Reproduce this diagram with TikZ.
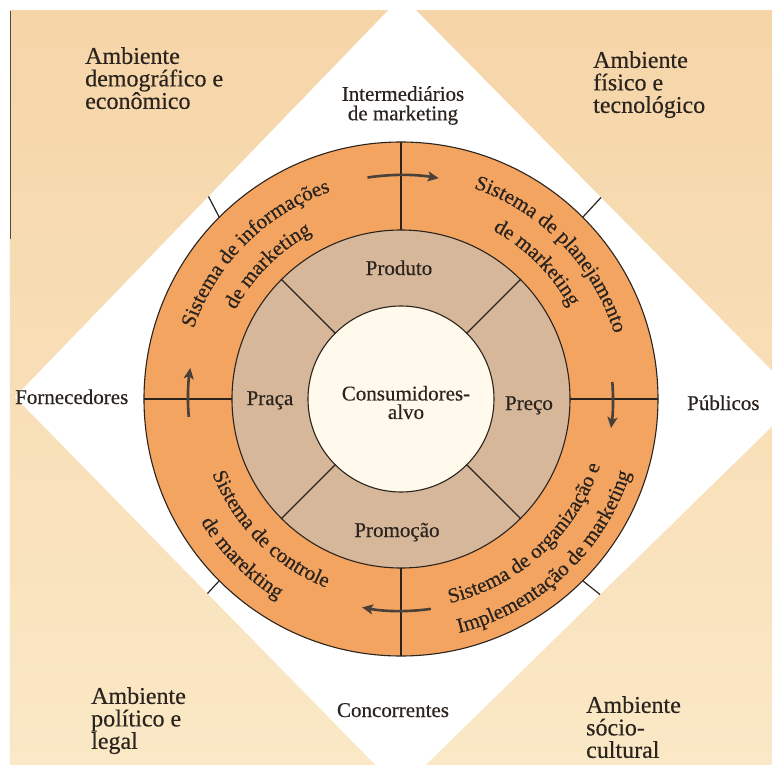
\documentclass[tikz,border=0pt]{standalone}
\usepackage{fontspec}
\setmainfont[FakeBold=0.4]{Liberation Serif}
\usetikzlibrary{decorations.text,arrows.meta,calc}
\definecolor{bgtop}{HTML}{F6D5A8}
\definecolor{bgbot}{HTML}{FAE8C6}
\definecolor{ringorange}{HTML}{F3A461}
\definecolor{ringtan}{HTML}{D6B79A}
\definecolor{corecream}{HTML}{FFFAEB}
\definecolor{ink}{HTML}{2A231E}
\definecolor{arrowink}{HTML}{4A403A}
\newcommand{\curvefont}{\fontsize{21}{21}\selectfont}
\begin{document}
\begin{tikzpicture}[x=1pt,y=1pt,
  lbl/.style={font=\fontsize{21}{19.5}\selectfont, text=ink, inner sep=0pt},
  lbltwo/.style={lbl, align=center},
  envlbl/.style={font=\fontsize{24}{22.5}\selectfont, text=ink, inner sep=0pt, align=left},
  edge/.style={draw=ink, line width=1.1pt},
  divider/.style={draw=ink, line width=1.2pt},
  flow/.style={draw=arrowink, line width=2.6pt, -{Stealth[length=11pt,width=10pt,inset=2.5pt]}},
  arctext/.style={decorate, decoration={text along path, text align=center, text color=ink, text={|\curvefont|#1}}}
]
\useasboundingbox (-401,-365) rectangle (371,399);
\fill[white] (-401,-365) rectangle (371,399);
% textured page background (peach corners)
\shade[top color=bgtop, bottom color=bgbot] (-391,388) rectangle (371,-365);
\draw[gray!60!black, line width=1pt] (-390,388) -- (-390,160);
% white diamond
\coordinate (DT) at (1,403);
\coordinate (DR) at (399,0);
\coordinate (DB) at (-1,-391);
\coordinate (DL) at (-386,2);
\fill[white] (DT) -- (DR) -- (DB) -- (DL) -- cycle;
% rings
\coordinate (O) at (0,0);
\fill[ringorange] (O) circle[radius=257];
\fill[ringtan] (O) circle[radius=169];
\fill[corecream] (O) circle[radius=93];
% dividers of the outer ring
\foreach \a in {0,90,180,270} \draw[divider] (\a:169) -- (\a:257);
% dividers of the middle ring
\foreach \a in {45,135,225,315} \draw[divider] (\a:93) -- (\a:169);
\draw[edge] (O) circle[radius=257];
\draw[edge] (O) circle[radius=169];
\draw[edge] (O) circle[radius=93];
% ticks to the diamond
\coordinate (tUR) at ($(DT)!0.5!(DR)$);
\coordinate (tUL) at ($(DT)!0.5!(DL)$);
\coordinate (tLL) at ($(DB)!0.5!(DL)$);
\coordinate (tLR) at ($(DB)!0.5!(DR)$);
\draw[divider] (45:257) -- (tUR);
\draw[divider] (135:257) -- (tUL);
\draw[divider] (225:257) -- (tLL);
\draw[divider] (315:257) -- (tLR);
% curved texts in the outer ring
\path[arctext={Sistema de informações}] (195:219) arc[start angle=195,end angle=75,radius=219];
\path[arctext={de marketing}] (195:188) arc[start angle=195,end angle=75,radius=188];
\path[arctext={Sistema de planejamento}] (104:223) arc[start angle=104,end angle=-16,radius=223];
\path[arctext={de marketing}] (105:192) arc[start angle=105,end angle=-15,radius=192];
\path[arctext={Sistema de controle}] (165:203) arc[start angle=165,end angle=285,radius=203];
\path[arctext={de marekting}] (165:235) arc[start angle=165,end angle=285,radius=235];
\path[arctext={Sistema de organização e}] (-107.5:210) arc[start angle=-107.5,end angle=12.5,radius=210];
\path[arctext={Implementação de marketing}] (-107:241) arc[start angle=-107,end angle=13,radius=241];
% flow arrows
\draw[flow] (98.6:224) arc[start angle=98.6,end angle=80.3,radius=224];
\draw[flow] (4.6:212) arc[start angle=4.6,end angle=-7.9,radius=212];
\draw[flow] (-81.9:212) arc[start angle=-81.9,end angle=-100.6,radius=212];
\draw[flow] (184.8:213) arc[start angle=184.8,end angle=171.6,radius=213];
% labels
\node[envlbl, anchor=north west] (envDemo) at (-316,352) {Ambiente\\demográfico e\\econômico};
\node[envlbl, anchor=north west] (envFis) at (192,348) {Ambiente\\físico e\\tecnológico};
\node[envlbl, anchor=north west] (envPol) at (-310,-288) {Ambiente\\político e\\legal};
\node[envlbl, anchor=north west] (envSoc) at (185,-297) {Ambiente\\sócio-\\cultural};
\node[lbltwo, anchor=north] (inter) at (2,313) {Intermediários\\de marketing};
\node[lbl, anchor=base west] (forn) at (-386,-5) {Fornecedores};
\node[lbl, anchor=base west] (pub) at (286,-11) {Públicos};
\node[lbl, anchor=base] (conc) at (-8,-318) {Concorrentes};
\node[lbl, anchor=base] (prod) at (-2,124) {Produto};
\node[lbl, anchor=base] (praca) at (-131,-6) {Praça};
\node[lbl, anchor=base] (preco) at (128,-11) {Preço};
\node[lbl, anchor=base] (promo) at (-4,-138) {Promoção};
\node[lbltwo, anchor=north, font=\fontsize{21}{18.5}\selectfont] (cons) at (5,13.3) {Consumidores-\\alvo};
\end{tikzpicture}
\end{document}
